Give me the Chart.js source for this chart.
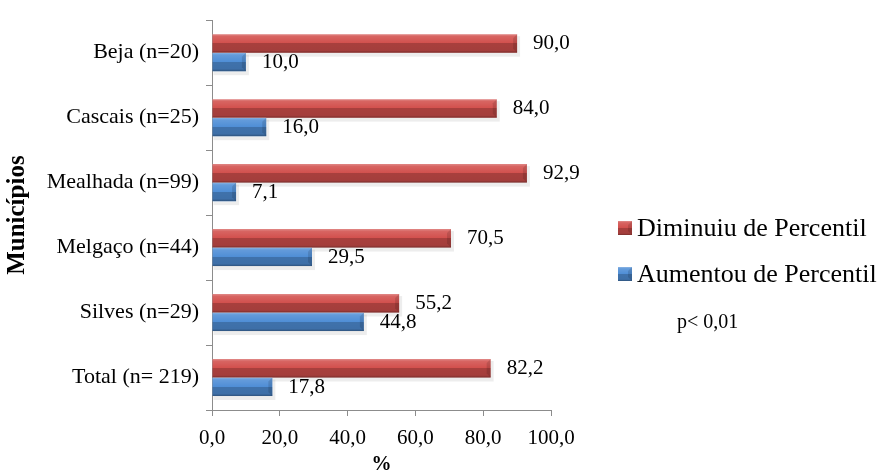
<!DOCTYPE html>
<html>
<head>
<meta charset="utf-8">
<script src="https://cdn.jsdelivr.net/npm/chart.js@4.4.0/dist/chart.umd.min.js"></script>
<style>
  html, body { margin: 0; padding: 0; background: #fff; }
  #wrap { width: 884px; height: 475px; }
</style>
</head>
<body>
<div id="wrap"><canvas id="c" width="884" height="475"></canvas></div>
<script>
const categories = ['Beja (n=20)', 'Cascais (n=25)', 'Mealhada (n=99)', 'Melgaço (n=44)', 'Silves (n=29)', 'Total (n= 219)'];
const diminuiu = [90.0, 84.0, 92.9, 70.5, 55.2, 82.2];
const aumentou = [10.0, 16.0, 7.1, 29.5, 44.8, 17.8];
const seriesNames = ['Diminuiu de Percentil', 'Aumentou de Percentil'];
const xTicks = [0, 20, 40, 60, 80, 100];
const note = 'p< 0,01';

const FONT = "'Liberation Serif', 'Times New Roman', serif";
const RED = '#D24F4C';
const BLUE = '#4F8ED6';

const fmt = v => v.toFixed(1).replace('.', ',');

// bevel look: light top edge, darker lower half, angled right end
function shade(ctx, left, top, w, h) {
  const g = ctx.createLinearGradient(0, top, 0, top + h);
  g.addColorStop(0, 'rgba(255,255,255,0.35)');
  g.addColorStop(0.12, 'rgba(255,255,255,0.12)');
  g.addColorStop(0.5, 'rgba(255,255,255,0)');
  g.addColorStop(0.5, 'rgba(0,0,0,0.2)');
  g.addColorStop(0.88, 'rgba(0,0,0,0.22)');
  g.addColorStop(1, 'rgba(0,0,0,0.42)');
  ctx.fillStyle = g;
  ctx.fillRect(left, top, w, h);
  const r = left + w, b = Math.min(4, w / 3);
  ctx.fillStyle = 'rgba(0,0,0,0.12)';
  ctx.beginPath();
  ctx.moveTo(r, top); ctx.lineTo(r - b, top + b); ctx.lineTo(r - b, top + h - b); ctx.lineTo(r, top + h);
  ctx.closePath(); ctx.fill();
}

const bevelPlugin = {
  id: 'bevel',
  beforeDatasetsDraw(chart) {
    // soft shadow under each bar
    const ctx = chart.ctx;
    ctx.save();
    chart.data.datasets.forEach((ds, di) => {
      chart.getDatasetMeta(di).data.forEach(bar => {
        const top = bar.y - bar.height / 2;
        ctx.fillStyle = 'rgba(0,0,0,0.07)';
        ctx.fillRect(bar.base + 1, top + 2, bar.x - bar.base + 2, bar.height + 2);
      });
    });
    ctx.restore();
  },
  afterDatasetsDraw(chart) {
    const ctx = chart.ctx;
    ctx.save();
    chart.data.datasets.forEach((ds, di) => {
      chart.getDatasetMeta(di).data.forEach(bar => {
        shade(ctx, bar.base, bar.y - bar.height / 2, bar.x - bar.base, bar.height);
      });
    });
    ctx.restore();
  }
};

// value labels, legend and note
const labelsPlugin = {
  id: 'labels',
  afterDraw(chart) {
    const ctx = chart.ctx;
    ctx.save();
    ctx.fillStyle = '#000';
    ctx.font = '21px ' + FONT;
    ctx.textBaseline = 'middle';
    ctx.textAlign = 'left';
    chart.data.datasets.forEach((ds, di) => {
      chart.getDatasetMeta(di).data.forEach((bar, i) => {
        ctx.fillText(fmt(ds.data[i]), bar.x + 16, bar.y + (di === 0 ? 0 : 1));
      });
    });

    const colors = [RED, BLUE];
    const base = [236, 282];
    ctx.textBaseline = 'alphabetic';
    ctx.font = '26px ' + FONT;
    seriesNames.forEach((name, k) => {
      const x = 618, y = base[k] - 15, s = 14;
      ctx.fillStyle = colors[k];
      ctx.fillRect(x, y, s, s);
      shade(ctx, x, y, s, s);
      ctx.fillStyle = '#000';
      ctx.fillText(name, 637, base[k]);
    });
    ctx.font = '20px ' + FONT;
    ctx.fillText(note, 677, 328);
    ctx.restore();
  }
};

new Chart(document.getElementById('c'), {
  type: 'bar',
  data: {
    labels: categories,
    datasets: [
      { label: seriesNames[0], data: diminuiu, backgroundColor: RED },
      { label: seriesNames[1], data: aumentou, backgroundColor: BLUE }
    ]
  },
  options: {
    indexAxis: 'y',
    responsive: false,
    animation: false,
    devicePixelRatio: 1,
    layout: { padding: { top: 16, right: 333, bottom: 0, left: 0 } },
    datasets: { bar: { barPercentage: 1, categoryPercentage: 0.57 } },
    plugins: { legend: { display: false }, tooltip: { enabled: false } },
    scales: {
      x: {
        min: 0, max: 100,
        afterBuildTicks: axis => { axis.ticks = xTicks.map(v => ({ value: v })); },
        afterFit: axis => { axis.height = 65; },
        grid: { drawOnChartArea: false, drawTicks: true, tickLength: 6, color: '#8c8c8c' },
        border: { color: '#8c8c8c' },
        ticks: { color: '#000', font: { family: FONT, size: 21 }, padding: 10, maxRotation: 0, callback: v => fmt(v) },
        title: { display: true, text: '%', color: '#000', font: { family: FONT, size: 20, weight: 'bold', lineHeight: 1 }, padding: 0 }
      },
      y: {
        afterFit: axis => { axis.width = 212; },
        grid: { drawOnChartArea: false, drawTicks: true, tickLength: 6, color: '#8c8c8c', offset: true },
        border: { color: '#8c8c8c' },
        ticks: { color: '#000', font: { family: FONT, size: 22 }, padding: 7 },
        title: { display: true, text: 'Municípios', color: '#000', font: { family: FONT, size: 25, weight: 'bold', lineHeight: 1.2 }, padding: 3 }
      }
    }
  },
  plugins: [bevelPlugin, labelsPlugin]
});
</script>
</body>
</html>
